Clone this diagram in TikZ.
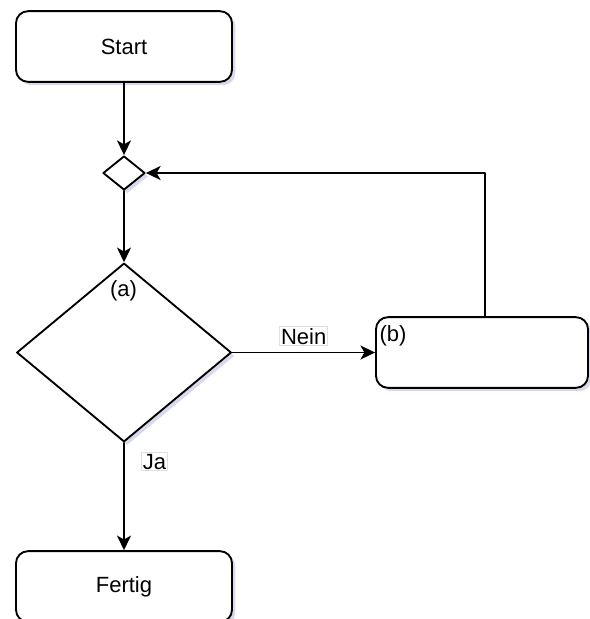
\documentclass[tikz,border=0pt]{standalone}
\usepackage{fontspec}
\setmainfont{Liberation Sans}
\usetikzlibrary{shapes.geometric, arrows.meta, shadows, positioning}

\begin{document}
\begin{tikzpicture}[x=0.75pt, y=-0.75pt, line cap=round, line join=round,
    >={Stealth[length=11pt, width=10.5pt, inset=3pt]},
    font=\fontsize{16.5}{19}\selectfont,
    softshadow/.style={drop shadow={opacity=0.22, fill=blue!35!gray, shadow xshift=2.5pt, shadow yshift=-2.5pt}},
    roundbox/.style={draw, line width=1.4pt, rounded corners=9pt, fill=white, minimum width=162pt, minimum height=53pt, softshadow},
    decision/.style={draw, diamond, fill=white, line width=1.4pt, inner sep=0pt, softshadow},
    edgelbl/.style={fill=white, draw=gray!25, line width=0.4pt, inner sep=1pt},
    flow/.style={->, line width=1.4pt}]

    % Fix the page to the size of the reference
    \useasboundingbox (0,0) rectangle (590,619);

    % Boxes and decisions
    \node[roundbox] (start) at (124,46.5) {Start};
    \node[decision, minimum width=31.5pt, minimum height=25.5pt] (merge) at (124,173) {};
    \node[decision, minimum width=161pt, minimum height=134pt] (check) at (124,352.5) {};
    \node (lbla) at (123.5,291) {(a)};
    \node[roundbox, minimum width=159pt] (procb) at (482,352.5) {};
    \node (lblb) at (393,336) {(b)};
    \node[roundbox] (fertig) at (124,586.5) {Fertig};

    % Connectors
    \draw[flow] (start) -- (merge);
    \draw[flow] (merge) -- (check);
    \draw[flow] (check.east) -- node[edgelbl, above=5pt] (nein) {Nein} (procb.west);
    \draw[flow] (check.south) -- node[edgelbl, pos=0.175, right=13pt] (ja) {Ja} (fertig.north);

    % Loop back to the merge point
    \draw[flow] ([xshift=2.25pt]procb.north) |- (merge.east);

\end{tikzpicture}
\end{document}
